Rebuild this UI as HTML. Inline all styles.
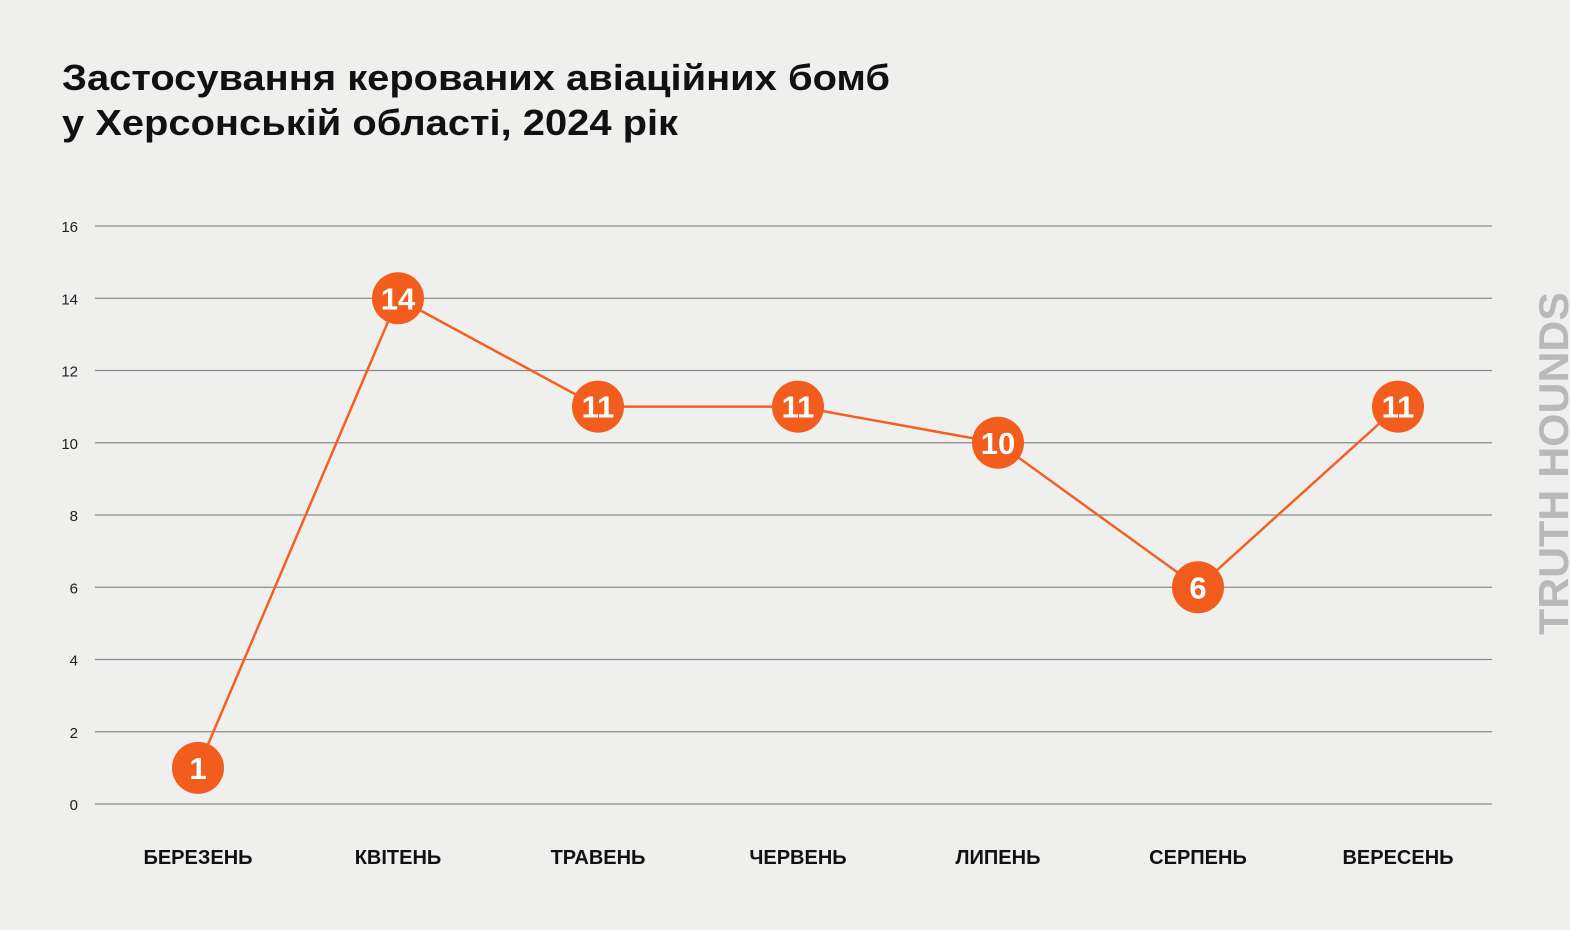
<!DOCTYPE html>
<html><head><meta charset="utf-8"><style>
body{margin:0;background:#efefee;}
svg{display:block;font-family:"Liberation Sans",sans-serif;}
</style></head><body>
<svg id="chart" width="1570" height="930">
<rect width="1570" height="930" fill="#efefee"/>
<text x="62" y="90" font-size="36" font-weight="bold" fill="#111" textLength="828" lengthAdjust="spacingAndGlyphs">Застосування керованих авіаційних бомб</text>
<text x="62" y="135" font-size="36" font-weight="bold" fill="#111" textLength="616" lengthAdjust="spacingAndGlyphs">у Херсонській області, 2024 рік</text>
<text transform="translate(1568,635) rotate(-90)" font-size="42" font-weight="bold" fill="#b9b9b9" textLength="343" lengthAdjust="spacingAndGlyphs">TRUTH HOUNDS</text>
<g id="grid"></g><g id="ylab"></g><g id="xlab"></g><g id="line"></g><g id="pts"></g>
</svg>
<script>
const categories=["БЕРЕЗЕНЬ","КВІТЕНЬ","ТРАВЕНЬ","ЧЕРВЕНЬ","ЛИПЕНЬ","СЕРПЕНЬ","ВЕРЕСЕНЬ"];
const values=[1,14,11,11,10,6,11];
const yTicks=[0,2,4,6,8,10,12,14,16];
const NS="http://www.w3.org/2000/svg";
const y=v=>804-v*(578/16);
const x=i=>198+i*200;
function mk(t,a,p){const e=document.createElementNS(NS,t);for(const k in a)e.setAttribute(k,a[k]);p.appendChild(e);return e;}
const grid=document.getElementById('grid'),yl=document.getElementById('ylab'),xl=document.getElementById('xlab'),ln=document.getElementById('line'),pts=document.getElementById('pts');
yTicks.forEach(t=>{
 const l=mk('line',{x1:95,x2:1492,y1:y(t),y2:y(t),stroke:'#8a8a8a','stroke-width':1.3},grid);
 
 
 const tx=mk('text',{x:78,y:y(t)+6,'text-anchor':'end','font-size':15,fill:'#222'},yl);tx.textContent=t;
 
 
});
categories.forEach((c,i)=>{
 const tx=mk('text',{x:x(i),y:864,'text-anchor':'middle','font-size':20,'font-weight':'bold',fill:'#111'},xl);tx.textContent=c;
 
 
});
const pl=mk('polyline',{points:values.map((v,i)=>x(i)+','+y(v)).join(' '),fill:'none',stroke:'#f26122','stroke-width':2.5},ln);


values.forEach((v,i)=>{
 const c=mk('circle',{cx:x(i),cy:y(v),r:26,fill:'#f25c1c'},pts);
 
 
 const t=mk('text',{x:x(i),y:y(v)+11,'text-anchor':'middle','font-size':31,'font-weight':'bold',fill:'#fff'},pts);t.textContent=v;
 
 
});
</script>
</body></html>
